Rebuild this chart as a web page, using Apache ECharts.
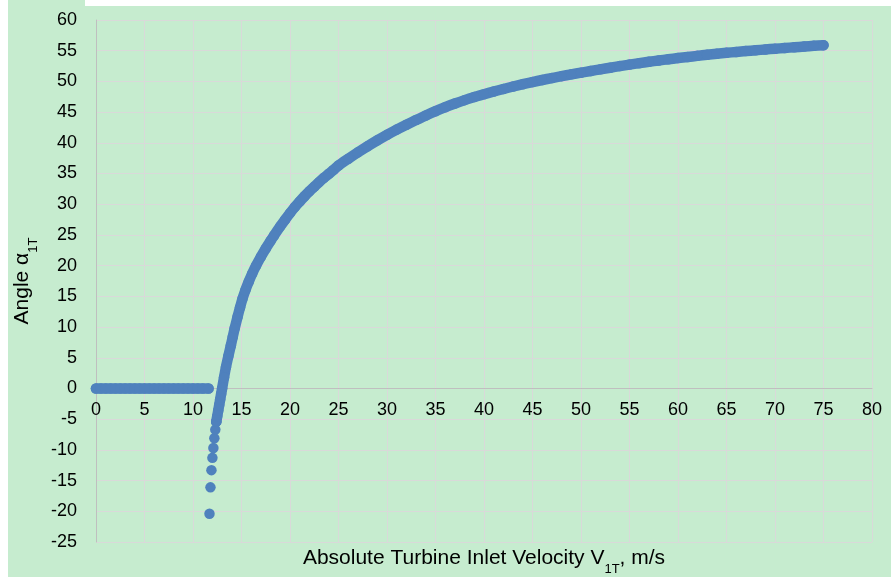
<!DOCTYPE html>
<html>
<head>
<meta charset="utf-8">
<script src="https://cdn.jsdelivr.net/npm/echarts@6/dist/echarts.min.js"></script>
<style>
  html, body { margin: 0; padding: 0; background: #ffffff; }
  #corner { position: absolute; left: 8px; top: 0; width: 77px; height: 6px; background: #c6eccf; }
  #chart { position: absolute; left: 8px; top: 6px; width: 883px; height: 571px; }
</style>
</head>
<body>
<div id="corner"></div>
<div id="chart"></div>
<script>
// Inlet velocity below the working range: angle reported as zero
const lowVelocity = [0, 0.5, 1, 1.5, 2, 2.5, 3, 3.5, 4, 4.5, 5, 5.5, 6, 6.5, 7, 7.5, 8, 8.5, 9, 9.5, 10, 10.5, 11, 11.6];
const lowAngle    = [0, 0, 0, 0, 0, 0, 0, 0, 0, 0, 0, 0, 0, 0, 0, 0, 0, 0, 0, 0, 0, 0, 0, 0];

// Steep negative branch just above the threshold velocity
const branchVelocity = [11.7, 11.8, 11.9, 12.0, 12.1, 12.2, 12.3, 12.4];
const branchAngle    = [-20.4, -16.1, -13.3, -11.3, -9.7, -8.1, -6.7, -5.4];

// Main rising curve of the inlet angle
const curveVelocity = [12.4, 12.5, 12.6, 12.7, 12.8, 12.9, 13.0, 13.2, 13.4, 13.65, 13.9, 14.1, 14.3, 14.6, 14.85,
  15.1, 15.4, 15.75, 16.1, 16.5, 17.0, 17.5, 18.0, 18.35, 19.0, 19.5, 20.0, 20.5, 21.0, 21.5, 22.0, 22.5, 23.0, 23.5, 24.0, 24.5,
  25, 26, 27, 28, 29, 30, 31, 32, 33, 34, 35, 36, 37, 38, 39, 40, 41, 42, 43, 44, 45, 46, 47, 48, 49, 50,
  51, 52, 53, 54, 55, 56, 57, 58, 59, 60, 61, 62, 63, 64, 65, 66, 67, 68, 69, 70, 71, 72, 73, 74, 75];
const curveAngle = [-5.4, -4.5, -3.6, -2.7, -1.8, -0.9, 0.0, 1.8, 3.5, 5.3, 7.0, 8.4, 9.8, 11.7, 13.2,
  14.6, 16.0, 17.4, 18.7, 20.0, 21.45, 22.8, 24.05, 24.9, 26.4, 27.5, 28.55, 29.55, 30.45, 31.3, 32.1, 32.85, 33.6, 34.3, 34.95, 35.6,
  36.3, 37.4, 38.45, 39.45, 40.4, 41.3, 42.15, 42.95, 43.7, 44.45, 45.15, 45.8, 46.4, 46.95, 47.45, 47.9, 48.35, 48.77, 49.17, 49.55, 49.9, 50.23, 50.55, 50.86, 51.15, 51.42,
  51.7, 51.97, 52.23, 52.49, 52.74, 52.97, 53.19, 53.4, 53.6, 53.8, 53.98, 54.16, 54.33, 54.5, 54.66, 54.8, 54.94, 55.07, 55.2, 55.32, 55.44, 55.56, 55.68, 55.79, 55.9];

const xTicks = { min: 0, max: 80, step: 5 };
const yTicks = { min: -25, max: 60, step: 5 };

const pairs = (xs, ys) => xs.map((x, i) => [x, ys[i]]);

const BLUE = '#4f81bd';
const FONT = "'Liberation Sans', Arial, sans-serif";
const GRID_COLOR = '#d9d9d9';

const GRID = { left: 88, right: 19, top: 14, bottom: 35 };
const chartEl = document.getElementById('chart');
const plotHeight = chartEl.clientHeight - GRID.top - GRID.bottom;
// lift the horizontal axis (line and labels) up to the zero angle line
const zeroLift = plotHeight * (0 - yTicks.min) / (yTicks.max - yTicks.min);

const nameRich = {
  a: { fontFamily: FONT, fontSize: 21, color: '#000', lineHeight: 24, verticalAlign: 'top' },
  s: { fontFamily: FONT, fontSize: 13, color: '#000', lineHeight: 13, padding: [15, 0, 0, 0], verticalAlign: 'top' }
};

const chart = echarts.init(chartEl);
chart.setOption({
  backgroundColor: '#c6eccf',
  animation: false,
  grid: Object.assign({ containLabel: false, outerBoundsMode: 'none' }, GRID),
  xAxis: {
    type: 'value',
    min: xTicks.min, max: xTicks.max, interval: xTicks.step,
    offset: -zeroLift,
    axisLine: { onZero: false, lineStyle: { color: '#bfbfbf', width: 1 } },
    axisTick: { show: false },
    axisLabel: { color: '#000', fontFamily: FONT, fontSize: 18, margin: 13 },
    splitLine: { show: true, lineStyle: { color: GRID_COLOR, width: 1 } },
    name: '{a|Absolute Turbine Inlet Velocity V}{s|1T}{a|, m/s}',
    nameLocation: 'middle',
    nameGap: zeroLift + 6,
    nameMoveOverlap: false,
    nameTextStyle: { rich: nameRich }
  },
  yAxis: {
    type: 'value',
    min: yTicks.min, max: yTicks.max, interval: yTicks.step,
    axisLine: { show: true, onZero: false, lineStyle: { color: '#bfbfbf', width: 1 } },
    axisTick: { show: false },
    axisLabel: { color: '#000', fontFamily: FONT, fontSize: 18, margin: 19 },
    splitLine: { show: true, lineStyle: { color: GRID_COLOR, width: 1 } },
    name: '{a|Angle α}{s|1T}',
    nameLocation: 'middle',
    nameGap: 57,
    nameTextStyle: { rich: nameRich }
  },
  series: [
    {
      // dense band of zero-angle samples
      type: 'line',
      data: pairs(lowVelocity, lowAngle),
      showSymbol: false,
      lineStyle: { color: BLUE, width: 10.5, cap: 'round', join: 'round' },
      z: 2
    },
    {
      // dense band along the rising curve
      type: 'line',
      data: pairs(curveVelocity, curveAngle),
      smooth: 0.3,
      showSymbol: false,
      lineStyle: { color: BLUE, width: 10.5, cap: 'round', join: 'round' },
      z: 2
    },
    {
      type: 'scatter',
      data: pairs(lowVelocity, lowAngle)
        .concat(pairs(branchVelocity, branchAngle))
        .concat(pairs(curveVelocity, curveAngle)),
      symbolSize: 10.5,
      itemStyle: { color: BLUE, opacity: 1 },
      z: 3
    }
  ]
});
</script>
</body>
</html>
